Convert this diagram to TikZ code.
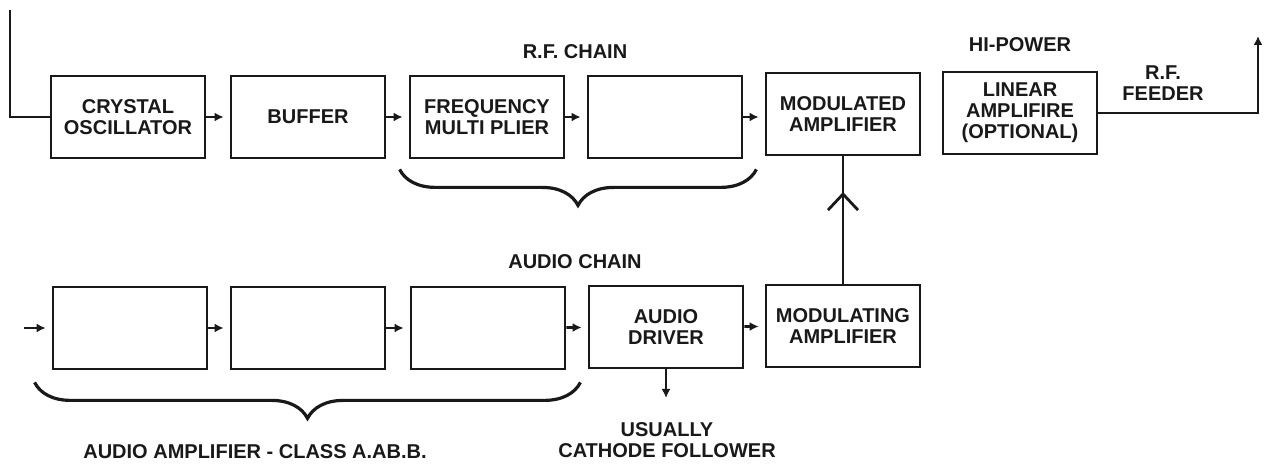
\documentclass[tikz,border=0pt]{standalone}
\usepackage{fontspec}
\setmainfont{Liberation Sans}
\usetikzlibrary{positioning, arrows.meta, calc, decorations.pathreplacing, decorations.markings}
\definecolor{inkblack}{RGB}{25,25,25}

\tikzset{
  blk/.style={draw=inkblack, line width=1.4pt, minimum width=77pt, minimum height=41pt,
    align=center, inner sep=1pt, text=inkblack, font=\fontsize{10}{10.5}\selectfont\bfseries},
  lbl/.style={align=center, text=inkblack, font=\fontsize{10}{10.5}\selectfont\bfseries},
  wire/.style={draw=inkblack, line width=1.4pt},
  flow/.style={wire, -{Latex[length=4.5pt,width=4.5pt]}, shorten >=3pt},
  grp/.style={draw=inkblack, line width=1.6pt, decorate, decoration={brace, mirror, amplitude=18pt}},
}

\begin{document}
\begin{tikzpicture}[x=0.5pt, y=-0.5pt]
  \useasboundingbox[fill=white] (0,0) rectangle (1265,464);

  % R.F. chain
  \node[blk] (crystal) at (128,117) {CRYSTAL\\OSCILLATOR};
  \node[blk] (buffer) at (308,117) {BUFFER};
  \node[blk] (freqmult) at (487,117) {FREQUENCY\\MULTI PLIER};
  \node[blk] (rfstage) at (665,117) {};
  \node[blk] (modulated) at (843,114) {MODULATED\\AMPLIFIER};
  \node[blk] (linear) at (1020,113) {LINEAR\\AMPLIFIRE\\(OPTIONAL)};
  \node[lbl] (rfchain) at (575,52) {R.F. CHAIN};
  \node[lbl] (hipower) at (1020,45) {HI-POWER};
  \node[lbl] (feeder) at (1163,83) {R.F.\\FEEDER};

  \coordinate (xtalin) at (10,10);
  \coordinate (aerial) at (1258,36);
  \draw[wire] (xtalin) |- (crystal.west);
  \draw[flow] (crystal) -- (buffer);
  \draw[flow] (buffer) -- (freqmult);
  \draw[flow] (freqmult) -- (rfstage);
  \draw[flow] (rfstage.east) -- (rfstage.east -| modulated.west);
  \draw[wire, -{Latex[length=4.5pt,width=4.5pt]}] (linear.east) -| (aerial);
  \draw[grp] ($(freqmult.south west)+(-9,10)$) -- ($(rfstage.south east)+(13,10)$);

  % audio chain
  \node[blk] (audA) at (130,328) {};
  \node[blk] (audB) at (308,328) {};
  \node[blk] (audC) at (488,328) {};
  \node[blk] (driver) at (666,327) {AUDIO\\DRIVER};
  \node[blk] (modulating) at (843,326) {MODULATING\\AMPLIFIER};
  \node[lbl] (audiochain) at (575,262) {AUDIO CHAIN};
  \node[lbl] (cathode) at (667,440) {USUALLY\\CATHODE FOLLOWER};
  \node[lbl] (classlbl) at (255,452) {AUDIO AMPLIFIER - CLASS A.AB.B.};

  \coordinate (audioin) at (24,328);
  \coordinate (follower) at (666,398);
  \draw[flow] (audioin) -- (audA);
  \draw[flow] (audA) -- (audB);
  \draw[flow] (audB) -- (audC);
  \draw[flow] (audC) -- (driver);
  \draw[flow] (driver) -- (modulating);
  \draw[flow, shorten >=0pt] (driver.south) -- (follower);
  \draw[wire, postaction={decorate}, decoration={markings,
      mark=at position 0.72 with {\arrow{Straight Barb[length=8pt,width=15pt]}}}]
    (modulating.north) -- (modulated.south);
  \draw[grp] ($(audA.south west)+(-17,12)$) -- ($(audC.south east)+(14,12)$);
\end{tikzpicture}
\end{document}
